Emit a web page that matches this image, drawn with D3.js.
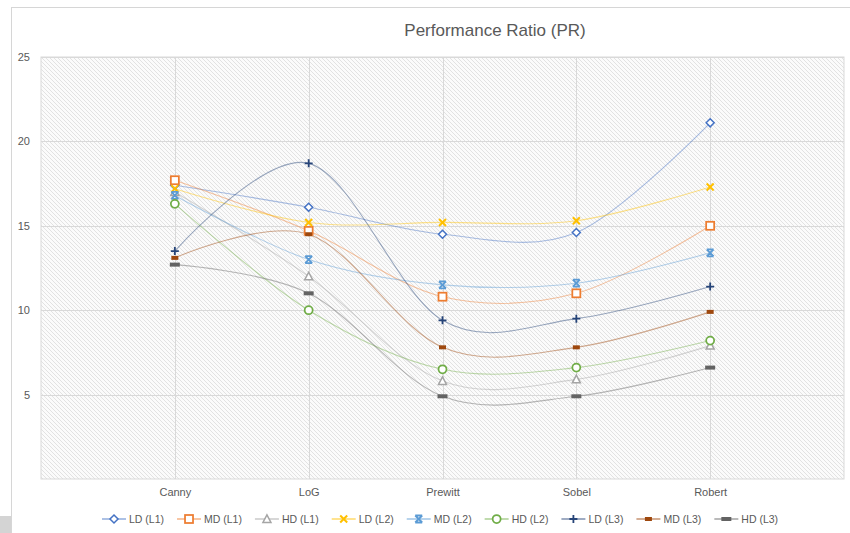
<!DOCTYPE html>
<html><head><meta charset="utf-8">
<script src="https://cdn.jsdelivr.net/npm/d3@7/dist/d3.min.js"></script>
<style>html,body{margin:0;padding:0;background:#fff;}svg{display:block;font-family:"Liberation Sans",Arial,sans-serif;}</style>
</head><body>
<svg id="chart" width="850" height="533"></svg>
<script>
const categories = ["Canny", "LoG", "Prewitt", "Sobel", "Robert"];
const seriesNames = ["LD (L1)", "MD (L1)", "HD (L1)", "LD (L2)", "MD (L2)", "HD (L2)", "LD (L3)", "MD (L3)", "HD (L3)"];
const ld1 = [17.4, 16.1, 14.5, 14.6, 21.1];
const md1 = [17.7, 14.7, 10.8, 11.0, 15.0];
const hd1 = [17.0, 12.0, 5.8, 5.9, 7.9];
const ld2 = [17.2, 15.2, 15.2, 15.3, 17.3];
const md2 = [16.8, 13.0, 11.5, 11.6, 13.4];
const hd2 = [16.3, 10.0, 6.5, 6.6, 8.2];
const ld3 = [13.5, 18.7, 9.4, 9.5, 11.4];
const md3 = [13.1, 14.5, 7.8, 7.8, 9.9];
const hd3 = [12.7, 11.0, 4.9, 4.9, 6.6];
const yTicks = [5, 10, 15, 20, 25];
const title = "Performance Ratio (PR)";

const seriesValues = [ld1, md1, hd1, ld2, md2, hd2, ld3, md3, hd3];
const colors = ["#4472C4", "#ED7D31", "#A5A5A5", "#FFC000", "#5B9BD5", "#70AD47", "#264478", "#9E480E", "#636363"];
const markers = ["diamond", "square", "triangle", "x", "star", "circle", "plus", "dash", "longdash"];

const svg = d3.select("#chart");
const W = 850, H = 533;
const plot = {x0: 41, x1: 844, y0: 57, y1: 479};

// frame
svg.append("line").attr("x1", 11.5).attr("x2", 11.5).attr("y1", 7).attr("y2", H).attr("stroke", "#d6d6d6");
svg.append("line").attr("x1", 11).attr("x2", W).attr("y1", 7.5).attr("y2", 7.5).attr("stroke", "#d6d6d6");
svg.append("rect").attr("x", 0).attr("y", 516).attr("width", 11).attr("height", 17).attr("fill", "#d4d4d4");

// hatch pattern
const defs = svg.append("defs");
const pat = defs.append("pattern").attr("id", "hatch").attr("patternUnits", "userSpaceOnUse")
  .attr("width", 4).attr("height", 4);
pat.append("rect").attr("width", 4).attr("height", 4).attr("fill", "#fbfbfb");
pat.append("path").attr("d", "M-1,-1 L5,5 M-1,3 L1,5 M3,-1 L5,1").attr("stroke", "#e2e2e2").attr("stroke-width", 1);

const x = d3.scalePoint().domain(["", ...categories, " "]).range([plot.x0, plot.x1]);
const y = d3.scaleLinear().domain([0, 25]).range([plot.y1, plot.y0]);

svg.append("rect").attr("x", plot.x0).attr("y", plot.y0).attr("width", plot.x1 - plot.x0).attr("height", plot.y1 - plot.y0)
  .attr("fill", "url(#hatch)").attr("stroke", "#d9d9d9");

// gridlines
const g = svg.append("g");
g.selectAll(".hg").data(yTicks).join("line")
  .attr("x1", plot.x0).attr("x2", plot.x1)
  .attr("y1", d => Math.round(y(d)) + 0.5).attr("y2", d => Math.round(y(d)) + 0.5)
  .attr("stroke", "#d9d9d9").attr("stroke-width", 1);
g.selectAll(".vg").data(categories).join("line")
  .attr("x1", d => Math.round(x(d)) + 0.5).attr("x2", d => Math.round(x(d)) + 0.5)
  .attr("y1", plot.y0).attr("y2", plot.y1)
  .attr("stroke", "#d9d9d9").attr("stroke-width", 1);

// y axis labels
const yAxis = d3.axisLeft(y).tickValues(yTicks).tickSize(0).tickPadding(0);
const ya = svg.append("g").attr("transform", "translate(30,0)").call(yAxis);
ya.select(".domain").remove();
ya.selectAll("text").attr("fill", "#595959").attr("font-size", 11).attr("font-family", "Liberation Sans, Arial, sans-serif");

// x axis labels
const xAxis = d3.axisBottom(x).tickValues(categories).tickSize(0).tickPadding(0);
const xa = svg.append("g").attr("transform", "translate(0,488)").call(xAxis);
xa.select(".domain").remove();
xa.selectAll("text").attr("fill", "#595959").attr("font-size", 11).attr("font-family", "Liberation Sans, Arial, sans-serif");

// title
svg.append("text").attr("x", 495).attr("y", 36).attr("text-anchor", "middle")
  .attr("font-size", 17).attr("fill", "#595959").text(title);

// marker drawing
function drawMarker(sel, type, color, cx, cy) {
  const m = sel.append("g").attr("transform", `translate(${cx},${cy})`);
  if (type === "diamond") {
    m.append("path").attr("d", "M0,-4L4,0L0,4L-4,0Z").attr("fill", "#fff").attr("stroke", color).attr("stroke-width", 1.5);
  } else if (type === "square") {
    m.append("rect").attr("x", -4).attr("y", -4).attr("width", 8).attr("height", 8).attr("fill", "#fff").attr("stroke", color).attr("stroke-width", 1.75);
  } else if (type === "triangle") {
    m.append("path").attr("d", "M0,-4.2L4,3.4L-4,3.4Z").attr("fill", "#fff").attr("stroke", color).attr("stroke-width", 1.5);
  } else if (type === "x") {
    m.append("path").attr("d", "M-3.5,-3.5L3.5,3.5M-3.5,3.5L3.5,-3.5").attr("stroke", color).attr("stroke-width", 2);
  } else if (type === "star") {
    m.append("path").attr("d", "M-3.5,-3.5L3.5,3.5M-3.5,3.5L3.5,-3.5M-3.5,-3.5L3.5,-3.5M-3.5,3.5L3.5,3.5").attr("stroke", color).attr("stroke-width", 1.8);
  } else if (type === "circle") {
    m.append("circle").attr("r", 4).attr("fill", "#fff").attr("stroke", color).attr("stroke-width", 1.75);
  } else if (type === "plus") {
    m.append("path").attr("d", "M-4,0L4,0M0,-4L0,4").attr("stroke", color).attr("stroke-width", 1.8);
  } else if (type === "dash") {
    m.append("rect").attr("x", -3.5).attr("y", -2).attr("width", 7).attr("height", 4).attr("fill", color);
  } else if (type === "longdash") {
    m.append("rect").attr("x", -5).attr("y", -2).attr("width", 10).attr("height", 4).attr("fill", color);
  }
}

// lines
const line = d3.line().x((d, i) => x(categories[i])).y(d => y(d)).curve(d3.curveCardinal.tension(0));
const linesG = svg.append("g");
seriesValues.forEach((vals, s) => {
  linesG.append("path").datum(vals).attr("d", line).attr("fill", "none")
    .attr("stroke", colors[s]).attr("stroke-width", 1.1).attr("stroke-opacity", 0.45);
});
const markG = svg.append("g");
seriesValues.forEach((vals, s) => {
  vals.forEach((v, i) => drawMarker(markG, markers[s], colors[s], x(categories[i]), y(v)));
});

// legend
const leg = svg.append("g").attr("font-size", 10.5).attr("fill", "#595959");
let lx = 102;
const ly = 519;
seriesNames.forEach((name, s) => {
  const it = leg.append("g");
  it.append("line").attr("x1", lx).attr("x2", lx + 24).attr("y1", ly).attr("y2", ly)
    .attr("stroke", colors[s]).attr("stroke-width", 1.1).attr("stroke-opacity", 0.8);
  drawMarker(it, markers[s], colors[s], lx + 12, ly);
  const t = it.append("text").attr("x", lx + 27).attr("y", ly + 4).text(name);
  lx = lx + 27 + t.node().getComputedTextLength() + 13;
});
</script>
</body></html>
